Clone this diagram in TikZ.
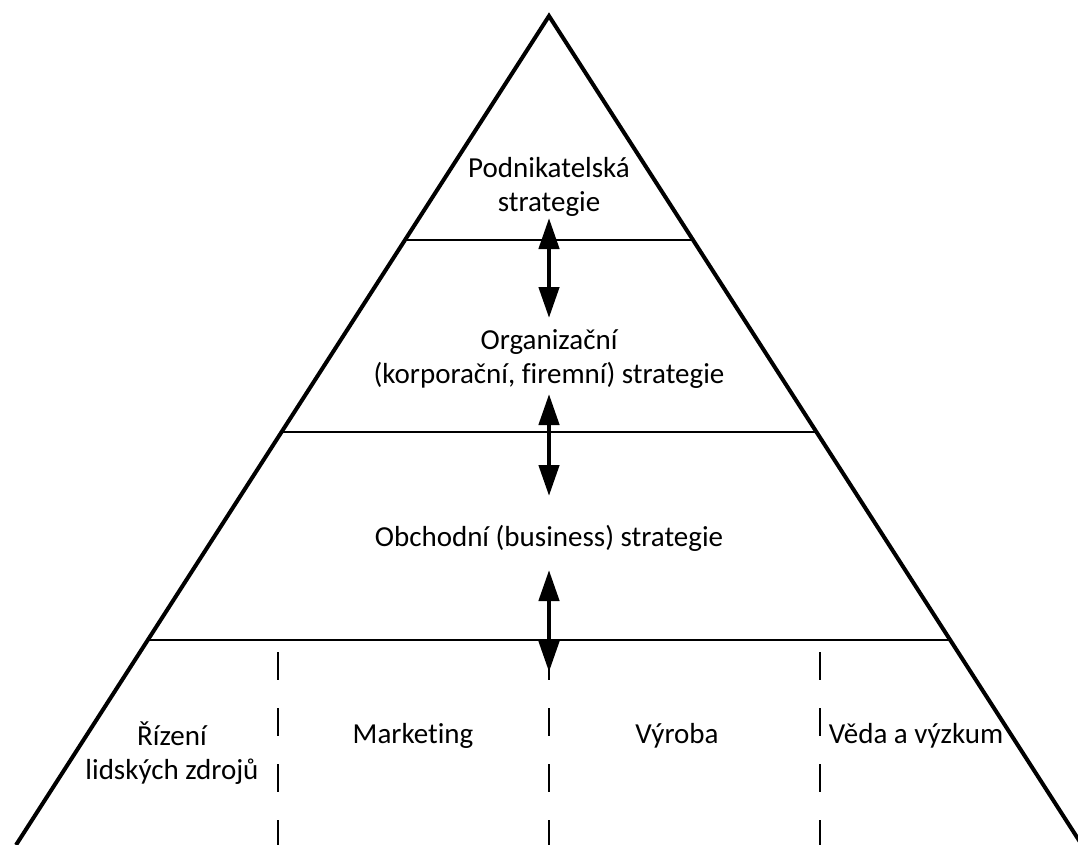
\documentclass[tikz,border=0pt]{standalone}
\usepackage{fontspec}
\setmainfont{Carlito}[Ligatures=NoCommon]
\usetikzlibrary{arrows.meta}

\begin{document}
\begin{tikzpicture}[x=1pt, y=-1pt,
    every node/.style={font=\fontsize{29}{34}\selectfont, align=center, inner sep=0pt},
    side/.style={line width=4pt, line join=miter},
    level/.style={line width=2pt},
    divider/.style={line width=2pt, dash pattern=on 28pt off 28pt},
    link/.style={line width=4.5pt, {Triangle[width=20pt,length=31pt]}-{Triangle[width=20pt,length=31pt]}}]
    \useasboundingbox (0,0) rectangle (1078,845);

    % pyramid
    \coordinate (Top) at (549,16);
    \coordinate (BaseL) at (16,845);
    \coordinate (BaseR) at (1082,845);
    \draw[side] (BaseL) -- (Top) -- (BaseR);

    % level boundaries
    \coordinate (L1a) at (405,240);
    \coordinate (L1b) at (693,240);
    \coordinate (L2a) at (282,432);
    \coordinate (L2b) at (816,432);
    \coordinate (L3a) at (148,640);
    \coordinate (L3b) at (950,640);

    \draw[level] (L1a) -- (L1b);
    \draw[level] (L2a) -- (L2b);
    \draw[level] (L3a) -- (L3b);

    % functional dividers
    \coordinate (D1a) at (278,652);
    \coordinate (D1b) at (278,845);
    \coordinate (D2a) at (549,652);
    \coordinate (D2b) at (549,845);
    \coordinate (D3a) at (820,652);
    \coordinate (D3b) at (820,845);

    \draw[divider] (D1a) -- (D1b);
    \draw[divider] (D2a) -- (D2b);
    \draw[divider] (D3a) -- (D3b);

    % links between levels
    \coordinate (A1a) at (549,218);
    \coordinate (A1b) at (549,318);
    \coordinate (A2a) at (549,394);
    \coordinate (A2b) at (549,496);
    \coordinate (A3a) at (549,570);
    \coordinate (A3b) at (549,672);

    \draw[link] (A1a) -- (A1b);
    \draw[link] (A2a) -- (A2b);
    \draw[link] (A3a) -- (A3b);

    % labels
    \node (Podnik) at (549,187) {Podnikatelská\\strategie};
    \node (Organ) at (549,359) {Organizační\\(korporační, firemní) strategie};
    \node[anchor=base] (Obchod) at (549,546) {Obchodní (business) strategie};

    \node (Rizeni) at (172,753) {Řízení\\lidských zdrojů};
    \node[anchor=base] (Market) at (413,743) {Marketing};
    \node[anchor=base] (Vyroba) at (677,743) {Výroba};
    \node[anchor=base] (Veda) at (916,743) {Věda a výzkum};
\end{tikzpicture}
\end{document}
